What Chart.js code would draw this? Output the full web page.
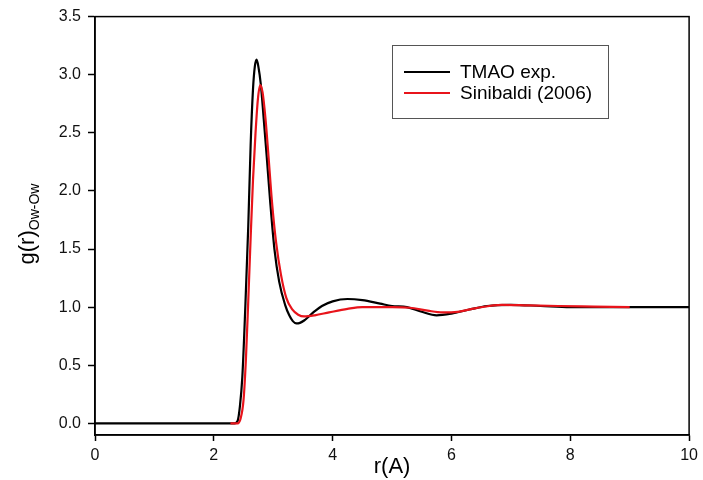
<!DOCTYPE html>
<html>
<head>
<meta charset="utf-8">
<script src="https://cdn.jsdelivr.net/npm/chart.js@4/dist/chart.umd.min.js"></script>
<style>
  html, body { margin: 0; padding: 0; background: #fff; }
  #wrap { width: 703px; height: 480px; }
</style>
</head>
<body>
<div id="wrap"><canvas id="gr" width="703" height="480"></canvas></div>
<script>
// Data
const expR = [0, 2.35, 2.40, 2.44, 2.48, 2.53, 2.58, 2.62, 2.66, 2.69,
  2.72, 2.75, 2.79, 2.84, 2.89, 2.95, 3.02, 3.10, 3.20, 3.27,
  3.33, 3.39, 3.45, 3.52, 3.60, 3.70, 3.82, 4.00, 4.25, 4.50,
  4.80, 5.00, 5.25, 5.50, 5.75, 6.00, 6.30, 6.60, 7.00, 7.50,
  8.00, 8.50, 9.00, 9.50, 10.0];
const expG = [0, 0, 0.02, 0.15, 0.40, 1.00, 1.70, 2.40, 2.88, 3.07,
  3.13, 3.07, 2.92, 2.62, 2.30, 1.90, 1.50, 1.22, 1.02, 0.93,
  0.88, 0.86, 0.865, 0.885, 0.92, 0.965, 1.01, 1.05, 1.07, 1.06,
  1.03, 1.01, 1.00, 0.96, 0.93, 0.945, 0.98, 1.01, 1.02, 1.01,
  1.00, 1.00, 1.00, 1.00, 1.00];

const simR = [2.28, 2.40, 2.45, 2.50, 2.54, 2.58, 2.62, 2.66, 2.70, 2.74,
  2.78, 2.82, 2.87, 2.92, 2.98, 3.05, 3.13, 3.22, 3.32, 3.42,
  3.52, 3.70, 3.94, 4.25, 4.50, 5.00, 5.30, 5.60, 5.85, 6.10,
  6.40, 6.85, 7.30, 7.80, 8.40, 9.00];
const simG = [0, 0, 0.04, 0.20, 0.55, 1.06, 1.60, 2.10, 2.48, 2.78,
  2.91, 2.85, 2.62, 2.30, 1.90, 1.55, 1.28, 1.08, 0.98, 0.935,
  0.92, 0.93, 0.955, 0.985, 1.00, 1.00, 0.995, 0.97, 0.955, 0.96,
  0.99, 1.02, 1.015, 1.01, 1.005, 1.00];

const xTicks = [0, 2, 4, 6, 8, 10];
const yTicks = [0, 0.5, 1.0, 1.5, 2.0, 2.5, 3.0, 3.5];

const FONT = 'Arial, "Liberation Sans", sans-serif';

const toPoints = (xs, ys) => xs.map((x, i) => ({ x: x, y: ys[i] }));

// Box around the plot area (top and right edges too)
const frame = {
  id: 'frame',
  afterDatasetsDraw(chart) {
    const { ctx, chartArea: a } = chart;
    ctx.save();
    ctx.strokeStyle = '#000';
    ctx.lineWidth = 1.5;
    ctx.strokeRect(a.left, a.top, a.right - a.left, a.bottom - a.top);
    ctx.restore();
  }
};

// Legend box in the upper right of the plot
const boxLegend = {
  id: 'boxLegend',
  afterDraw(chart) {
    const { ctx } = chart;
    const sets = chart.data.datasets;
    ctx.save();
    ctx.strokeStyle = '#555';
    ctx.lineWidth = 1;
    ctx.strokeRect(392.5, 45.5, 216, 73);
    ctx.font = '19px ' + FONT;
    ctx.textBaseline = 'middle';
    ctx.fillStyle = '#000';
    sets.forEach((ds, i) => {
      const y = 72 + i * 21;
      ctx.strokeStyle = ds.borderColor;
      ctx.lineWidth = 2;
      ctx.beginPath();
      ctx.moveTo(404, y);
      ctx.lineTo(450, y);
      ctx.stroke();
      ctx.fillText(ds.label, 460, y + 1);
    });
    ctx.restore();
  }
};

// Y axis title with subscript
const yTitle = {
  id: 'yTitle',
  afterDraw(chart) {
    const { ctx } = chart;
    const main = 'g(r)';
    const sub = 'Ow-Ow';
    ctx.save();
    ctx.fillStyle = '#000';
    ctx.font = '22px ' + FONT;
    const w1 = ctx.measureText(main).width;
    ctx.font = '14px ' + FONT;
    const w2 = ctx.measureText(sub).width;
    ctx.translate(28, 224);
    ctx.rotate(-Math.PI / 2);
    ctx.textBaseline = 'alphabetic';
    const x = -(w1 + w2) / 2;
    ctx.font = '22px ' + FONT;
    ctx.fillText(main, x, 6);
    ctx.font = '14px ' + FONT;
    ctx.fillText(sub, x + w1, 11);
    ctx.restore();
  }
};

new Chart(document.getElementById('gr'), {
  type: 'line',
  data: {
    datasets: [{
      label: 'TMAO exp.',
      data: toPoints(expR, expG),
      borderColor: '#000000',
      borderWidth: 2.2,
      pointRadius: 0,
      cubicInterpolationMode: 'monotone',
      order: 1
    }, {
      label: 'Sinibaldi (2006)',
      data: toPoints(simR, simG),
      borderColor: '#e8141b',
      borderWidth: 2.2,
      pointRadius: 0,
      cubicInterpolationMode: 'monotone',
      order: 0
    }]
  },
  options: {
    responsive: false,
    animation: false,
    devicePixelRatio: 1,
    layout: { padding: { top: 16, right: 12, left: 0, bottom: 0 } },
    plugins: {
      legend: { display: false },
      tooltip: { enabled: false }
    },
    scales: {
      x: {
        type: 'linear',
        min: 0,
        max: 10,
        afterBuildTicks: (s) => { s.ticks = xTicks.map(v => ({ value: v })); },
        afterFit: (s) => { s.height = 45; },
        ticks: {
          color: '#111',
          font: { family: FONT, size: 16 },
          padding: 5,
          maxRotation: 0,
          callback: (v) => String(v)
        },
        grid: { drawOnChartArea: false, drawTicks: true, tickLength: 6, tickColor: '#000', tickWidth: 1.5 },
        border: { display: true, color: '#000', width: 1.5 },
        title: {
          display: true,
          text: 'r(A)',
          color: '#000',
          font: { family: FONT, size: 22 },
          padding: { top: 0, bottom: 0 }
        }
      },
      y: {
        type: 'linear',
        min: -0.1,
        max: 3.5,
        afterBuildTicks: (s) => { s.ticks = yTicks.map(v => ({ value: v })); },
        afterFit: (s) => { s.width = 95; },
        ticks: {
          color: '#111',
          font: { family: FONT, size: 16 },
          padding: 7,
          callback: (v) => Number(v).toFixed(1)
        },
        grid: { drawOnChartArea: false, drawTicks: true, tickLength: 7, tickColor: '#000', tickWidth: 1.5 },
        border: { display: true, color: '#000', width: 1.5 }
      }
    }
  },
  plugins: [frame, boxLegend, yTitle]
});
</script>
</body>
</html>
